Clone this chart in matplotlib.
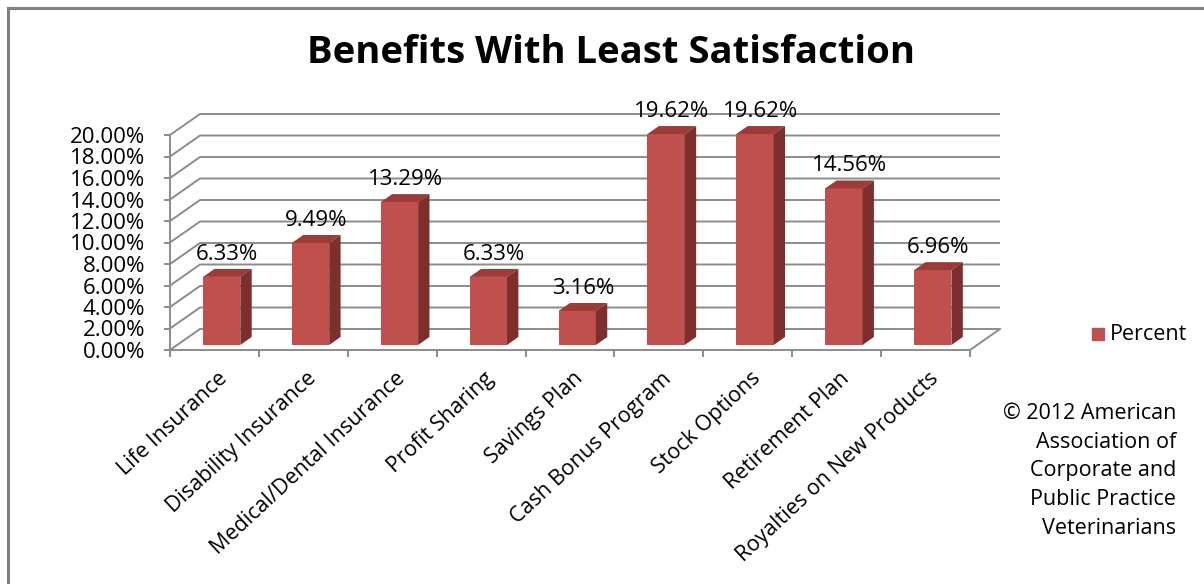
import numpy as np
import matplotlib.pyplot as plt
from matplotlib.patches import Polygon
from matplotlib.lines import Line2D

plt.rcParams['font.family'] = ['Open Sans', 'DejaVu Sans']

categories = ["Life Insurance", "Disability Insurance", "Medical/Dental Insurance",
              "Profit Sharing", "Savings Plan", "Cash Bonus Program", "Stock Options",
              "Retirement Plan", "Royalties on New Products"]
percent = [6.33, 9.49, 13.29, 6.33, 3.16, 19.62, 19.62, 14.56, 6.96]
y_ticks = [0, 2, 4, 6, 8, 10, 12, 14, 16, 18, 20]
series_name = "Percent"
title = "Benefits With Least Satisfaction"
note = "\u00a9 2012 American\nAssociation of\nCorporate and\nPublic Practice\nVeterinarians"

FRONT = "#C0504D"
TOP = "#9C3B38"
SIDE = "#7D2F2D"
GRID = "#8C8C8C"

# depth offset of the 3d box (data units)
DX = 30 / 88.9
DY = 21 / 10.75
F0, F1 = 0.24, 0.62   # bar depth range as fraction of box depth
W = 0.42

W_PX, H_PX = 1204, 584
fig = plt.figure(figsize=(W_PX / 100, H_PX / 100), dpi=100)

n = len(categories)
ax = fig.add_axes([170 / W_PX, (H_PX - 350) / H_PX, 830 / W_PX, 236 / H_PX])
ax.set_xlim(0, n + DX)
ax.set_ylim(0, 20 + DY)
ax.patch.set_alpha(0)

# walls / gridlines
for y in y_ticks:
    ax.plot([0, DX, n + DX], [y, y + DY, y + DY], color=GRID, lw=1.4,
            clip_on=False, zorder=1, solid_capstyle='butt')
ax.plot([n, n + DX], [0, DY], color=GRID, lw=1.4, clip_on=False, zorder=1)

# bars
centers = np.arange(n) + 0.5
ax.bar(centers + F0 * DX, percent, width=W, bottom=F0 * DY, color=FRONT,
       zorder=3, clip_on=False)
for c, v in zip(centers, percent):
    x0, x1 = c - W / 2, c + W / 2
    top = [(x0 + F0 * DX, v + F0 * DY), (x1 + F0 * DX, v + F0 * DY),
           (x1 + F1 * DX, v + F1 * DY), (x0 + F1 * DX, v + F1 * DY)]
    side = [(x1 + F0 * DX, F0 * DY), (x1 + F1 * DX, F1 * DY),
            (x1 + F1 * DX, v + F1 * DY), (x1 + F0 * DX, v + F0 * DY)]
    ax.add_patch(Polygon(top, closed=True, color=TOP, lw=0, zorder=3, clip_on=False))
    ax.add_patch(Polygon(side, closed=True, color=SIDE, lw=0, zorder=3, clip_on=False))
    ax.text(c + (F0 + F1) / 2 * DX, v + F1 * DY + 0.4, f"{v:.2f}%",
            ha='center', va='bottom', fontsize=16, color='black', zorder=4)

# axes
for s in ['top', 'right']:
    ax.spines[s].set_visible(False)
ax.spines['left'].set_bounds(0, 20)
ax.spines['bottom'].set_bounds(0, n)
for s in ['left', 'bottom']:
    ax.spines[s].set_color(GRID)
    ax.spines[s].set_linewidth(1.4)
    ax.spines[s].set_zorder(2)

ax.set_yticks(y_ticks)
ax.set_yticklabels([f"{t:.2f}%" for t in y_ticks], fontsize=16)
ax.tick_params(axis='y', length=4, width=1.4, color=GRID, pad=14)

ax.set_xticks(np.arange(n + 1))
ax.set_xticklabels([])
ax.set_xticks(centers + 0.03, minor=True)
ax.set_xticklabels(categories, minor=True, rotation=43, ha='right', va='top',
                   rotation_mode='anchor', fontsize=15.5)
ax.tick_params(axis='x', which='major', length=5, width=1.4, color=GRID)
ax.tick_params(axis='x', which='minor', length=0, pad=13)

# title
fig.text(611 / W_PX, 1 - 53 / H_PX, title, ha='center', va='center',
         fontsize=27.5, fontweight='bold')

# legend
fig.patches.append(plt.Rectangle((1092 / W_PX, 1 - 340 / H_PX), 12 / W_PX, 12 / H_PX,
                                 transform=fig.transFigure, color=FRONT))
fig.text(1110 / W_PX, 1 - 334 / H_PX, series_name, ha='left', va='center', fontsize=15.5)

# copyright note
fig.text(1176 / W_PX, 1 - 403 / H_PX, note, ha='right', va='top', fontsize=15.5,
         linespacing=1.48)

# chart frame (top and left edges)
fig.add_artist(Line2D([8 / W_PX, 1], [1 - 8 / H_PX, 1 - 8 / H_PX],
                      transform=fig.transFigure, color='#808080', lw=2.2))
fig.add_artist(Line2D([8 / W_PX, 8 / W_PX], [0, 1 - 8 / H_PX],
                      transform=fig.transFigure, color='#808080', lw=2.2))

fig.savefig("out.png", dpi=100)
